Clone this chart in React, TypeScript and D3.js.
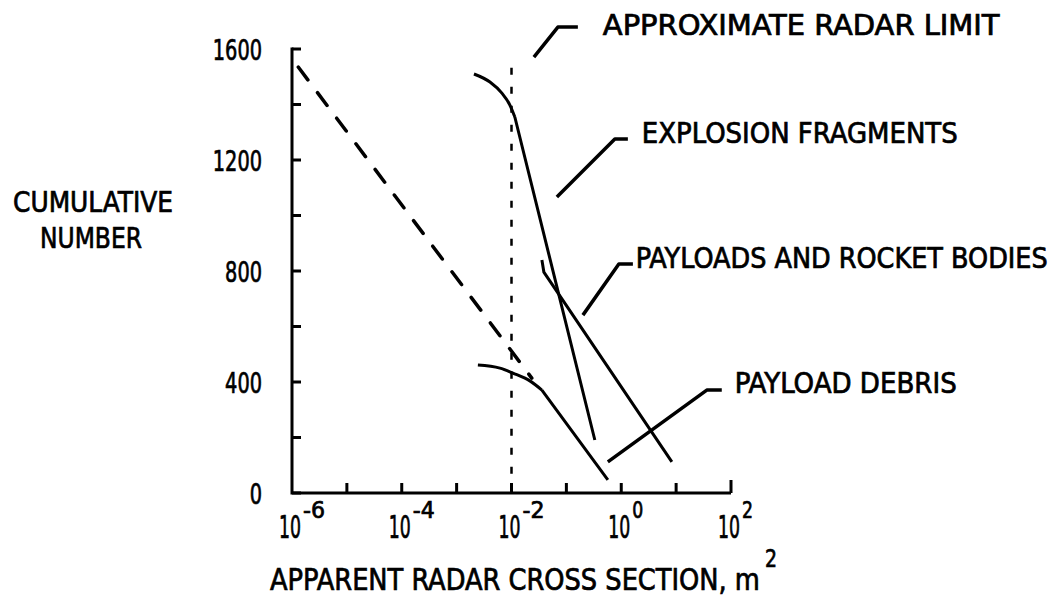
import React, { useLayoutEffect, useRef, useState } from 'react';
import * as d3 from 'd3';

// cross section values in m^2, counts are cumulative number of objects
const xTickValues = [1e-6, 1e-5, 1e-4, 1e-3, 1e-2, 1e-1, 1, 10, 100];
const xLabelValues = [1e-6, 1e-4, 1e-2, 1, 100];
const xLabelExponents = ['-6', '-4', '-2', '0', '2'];
const yTickValues = [0, 200, 400, 600, 800, 1000, 1200, 1400, 1600];
const yLabelValues = [0, 400, 800, 1200, 1600];
const radarLimit = { size: 1e-2, top: 1532 };

const extrapolated = [
  { size: 1.3e-6, count: 1535 },
  { size: 0.0234, count: 414 },
];
// the knee is smooth, the tail after it is straight
const explosionFragments = [
  { size: 0.00207, count: 1510 },
  { size: 0.00405, count: 1481 },
  { size: 0.00668, count: 1441 },
  { size: 0.00935, count: 1398 },
  { size: 0.0115, count: 1355 },
  { size: 0.33, count: 191 },
];
const payloadDebris = [
  { size: 0.00244, count: 461 },
  { size: 0.00615, count: 450 },
  { size: 0.0106, count: 432 },
  { size: 0.0216, count: 404 },
  { size: 0.0358, count: 371 },
  { size: 0.57, count: 47 },
];
const payloadsRocketBodies = [
  { size: 0.0358, count: 840 },
  { size: 0.0389, count: 796 },
  { size: 8.36, count: 112 },
];

const labelTexts = [
  'APPROXIMATE RADAR LIMIT',
  'EXPLOSION FRAGMENTS',
  'PAYLOADS AND ROCKET BODIES',
  'PAYLOAD DEBRIS',
];
// leader lines in [size, count]
const leaders = [
  [[0.0256, 1571], [0.07, 1679], [0.162, 1679]],
  [[0.0671, 1067], [0.764, 1276], [1.32, 1276]],
  [[0.2, 641], [0.904, 825], [1.63, 825]],
  [[0.57, 112], [36.2, 371], [67.9, 371]],
];
const labelAnchors = [
  [0.462, 1650],
  [2.37, 1261],
  [1.84, 811],
  [117, 360],
];
const labelWidths = [397, 316, 412, 222];

const FONT = "'Liberation Sans Narrow', 'DejaVu Sans Condensed', 'Liberation Sans', sans-serif";

const x = d3.scaleLog().domain([1e-6, 1e2]).range([292, 731]);
const y = d3.scaleLinear().domain([0, 1600]).range([493, 49]);

type Pt = { size: number; count: number };

const smooth = d3
  .line<Pt>()
  .x((d) => x(d.size))
  .y((d) => y(d.count))
  .curve(d3.curveMonotoneX);

const straight = d3
  .line<Pt>()
  .x((d) => x(d.size))
  .y((d) => y(d.count));

const leaderLine = d3
  .line<number[]>()
  .x((d) => x(d[0]))
  .y((d) => y(d[1]));

// knee drawn smooth, rest straight
const kneeCurve = (pts: Pt[]) =>
  (smooth(pts.slice(0, -1)) || '') + (straight(pts.slice(-2)) || '');

// text squeezed horizontally to a given width (the lettering is condensed)
const Txt = ({ px, py, w, size, anchor = 'start', children }: any) => {
  const ref = useRef<SVGTextElement>(null);
  const [k, setK] = useState(1);
  useLayoutEffect(() => {
    if (!ref.current) return;
    const len = ref.current.getComputedTextLength();
    if (len > 0) setK(w / len);
  }, [w, children, size]);
  return (
    <text
      ref={ref}
      transform={`translate(${px},${py}) scale(${k},1)`}
      fontSize={size}
      fontFamily={FONT}
      textAnchor={anchor}
      fill="#000"
      stroke="#000"
      strokeWidth={0.7}
    >
      {children}
    </text>
  );
};

export default function App() {
  const x0 = x(1e-6);
  const x1 = x(1e2);
  const y0 = y(0);

  return (
    <svg
      width={1053}
      height={600}
      style={{ position: 'absolute', left: 0, top: 0, background: '#fff' }}
    >
      {/* axes */}
      <path
        d={`M${x0},${y(1605)}V${y0}H${x1}`}
        fill="none"
        stroke="#000"
        strokeWidth={3}
      />
      {yTickValues.map((v) => (
        <line key={v} x1={x0} x2={x0 + 9} y1={y(v)} y2={y(v)} stroke="#000" strokeWidth={3} />
      ))}
      {xTickValues.slice(1).map((v, i) => (
        <line
          key={v}
          x1={x(v)}
          x2={x(v)}
          y1={y0}
          y2={y0 - (i === xTickValues.length - 2 ? 13 : 10)}
          stroke="#000"
          strokeWidth={3}
        />
      ))}

      {/* y tick labels */}
      {yLabelValues.map((v) => (
        <Txt key={v} px={262} py={y(v) + 11} w={String(v).length * 12.3} size={28} anchor="end">
          {v}
        </Txt>
      ))}

      {/* x tick labels */}
      {xLabelValues.map((v, i) => (
        <g key={v}>
          <Txt px={x(v) - 13} py={538} w={22} size={32}>
            10
          </Txt>
          <Txt px={x(v) + 11} py={518} w={xLabelExponents[i].length > 1 ? 22 : 11} size={23}>
            {xLabelExponents[i]}
          </Txt>
        </g>
      ))}

      {/* axis titles */}
      <Txt px={93} py={212} w={160} size={29} anchor="middle">
        CUMULATIVE
      </Txt>
      <Txt px={91} py={248} w={102} size={29} anchor="middle">
        NUMBER
      </Txt>
      <Txt px={270} py={590} w={490} size={30}>
        APPARENT RADAR CROSS SECTION, m
      </Txt>
      <Txt px={765} py={567} w={12} size={24}>
        2
      </Txt>

      {/* radar limit */}
      <line
        x1={x(radarLimit.size)}
        x2={x(radarLimit.size)}
        y1={y(radarLimit.top)}
        y2={y0}
        stroke="#000"
        strokeWidth={2.5}
        strokeDasharray="7 12"
      />

      {/* curves */}
      <path
        d={straight(extrapolated) || ''}
        fill="none"
        stroke="#000"
        strokeWidth={3.5}
        strokeDasharray="16 16"
        strokeLinecap="round"
      />
      <path d={kneeCurve(explosionFragments)} fill="none" stroke="#000" strokeWidth={3} />
      <path d={kneeCurve(payloadDebris)} fill="none" stroke="#000" strokeWidth={3} />
      <path d={straight(payloadsRocketBodies) || ''} fill="none" stroke="#000" strokeWidth={3} />

      {/* annotations */}
      {labelTexts.map((t, i) => (
        <g key={t}>
          <path
            d={leaderLine(leaders[i]) || ''}
            fill="none"
            stroke="#000"
            strokeWidth={3.5}
            strokeLinejoin="round"
          />
          <Txt px={x(labelAnchors[i][0])} py={y(labelAnchors[i][1])} w={labelWidths[i]} size={28}>
            {t}
          </Txt>
        </g>
      ))}
    </svg>
  );
}
